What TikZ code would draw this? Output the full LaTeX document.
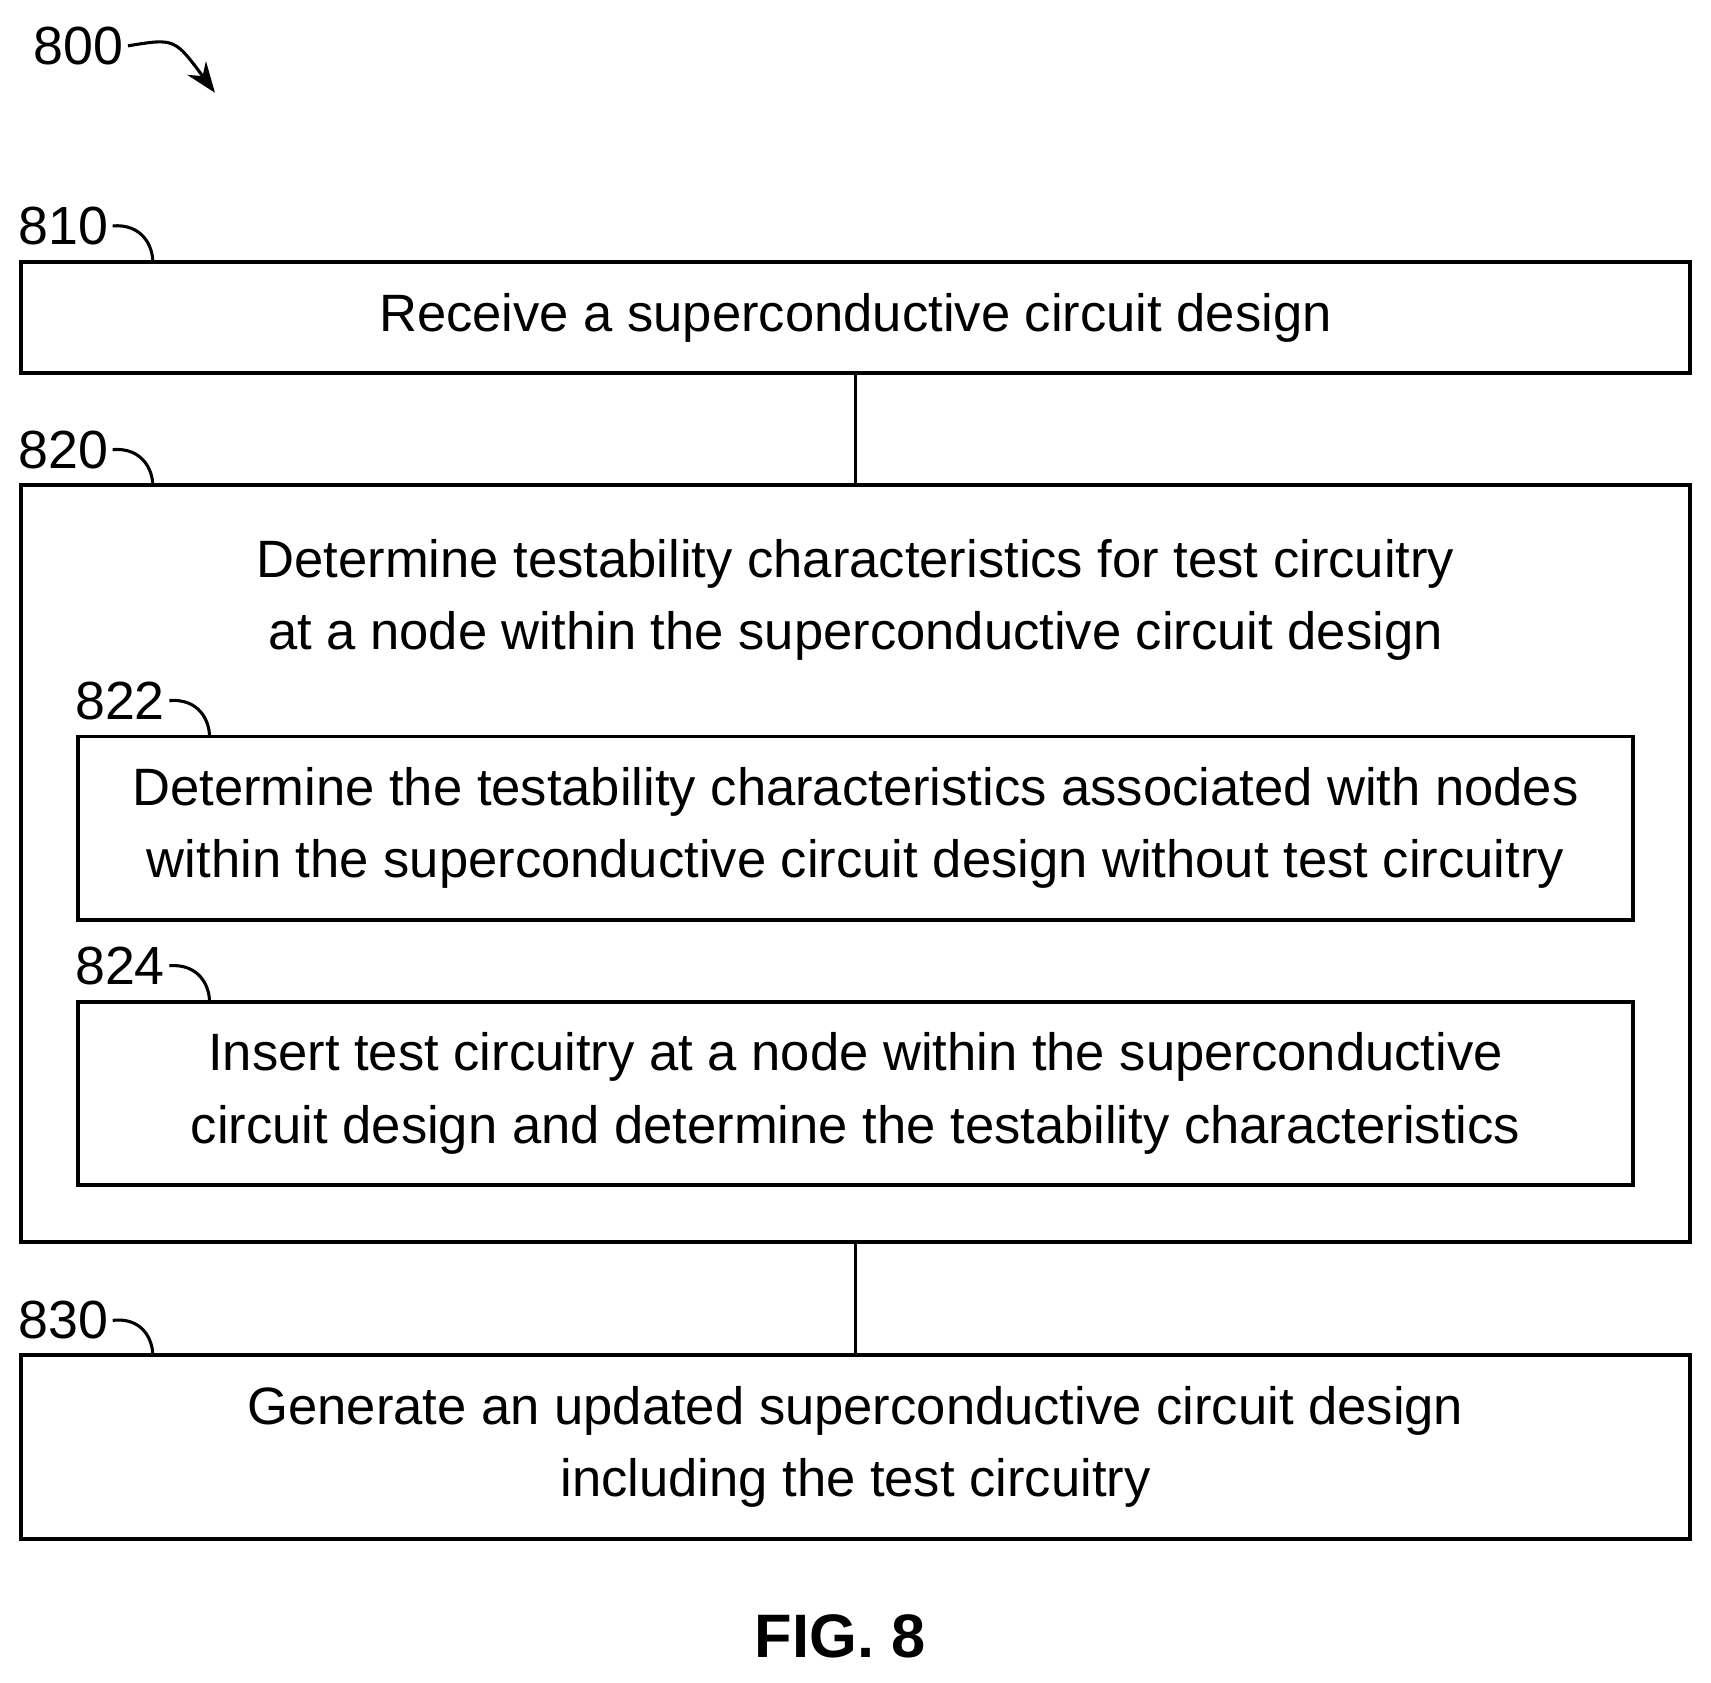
\documentclass[tikz,border=0pt]{standalone}
\usepackage{fontspec}
\setmainfont{Liberation Sans}
\usetikzlibrary{positioning}
\usetikzlibrary{calc}
\usetikzlibrary{arrows.meta}

\begin{document}
\begin{tikzpicture}[x=0.01cm, y=-0.01cm,
box/.style={
  draw,
  line width=1pt,
  align=center,
  inner sep=0pt,
  font=\fontsize{13.7}{18.8}\selectfont},
ref/.style={
  font=\fontsize{14}{16}\selectfont,
  inner sep=1pt}
]
\useasboundingbox (0,0) rectangle (1568,1542);
% boxes
\node[box, minimum width=15.28cm, minimum height=1.02cm] (b810) at (784,291) {Receive a superconductive circuit design};
\node[box, minimum width=15.28cm, minimum height=6.93cm] (b820) at (784,791.5) {};
\node[box, draw=none] (t820) at (784,550) {Determine testability characteristics for test circuitry\\at a node within the superconductive circuit design};
\node[box, minimum width=14.24cm, minimum height=1.68cm] (b822) at (784,759) {Determine the testability characteristics associated with nodes\\within the superconductive circuit design without test circuitry};
\node[box, minimum width=14.24cm, minimum height=1.68cm] (b824) at (784,1002) {Insert test circuitry at a node within the superconductive\\circuit design and determine the testability characteristics};
\node[box, minimum width=15.28cm, minimum height=1.68cm] (b830) at (784,1326) {Generate an updated superconductive circuit design\\including the test circuitry};
% connectors
\draw[line width=1pt] (b810) -- (b820);
\draw[line width=1pt] (b820) -- (b830);
% reference numerals
\node[ref] (n800) at (72,42) {800};
\node[ref] (n810) at (58,207) {810};
\node[ref] (n820) at (58,412) {820};
\node[ref] (n822) at (110,642) {822};
\node[ref] (n824) at (110,885) {824};
\node[ref] (n830) at (58,1210) {830};
\draw[-{Stealth[length=8pt]}, line width=0.8pt] (n800.east) .. controls (160,35) .. (197,85);
\foreach \n/\x/\y in {810/140/240, 820/140/445, 822/192/675, 824/192/918, 830/140/1242}
  \draw[line width=0.8pt] (n\n.east) .. controls (\x-10,\y-35) and (\x,\y-15) .. (\x,\y);
\node[font=\bfseries\fontsize{16}{18}\selectfont] (fig) at (770,1500) {FIG. 8};
\end{tikzpicture}
\end{document}
